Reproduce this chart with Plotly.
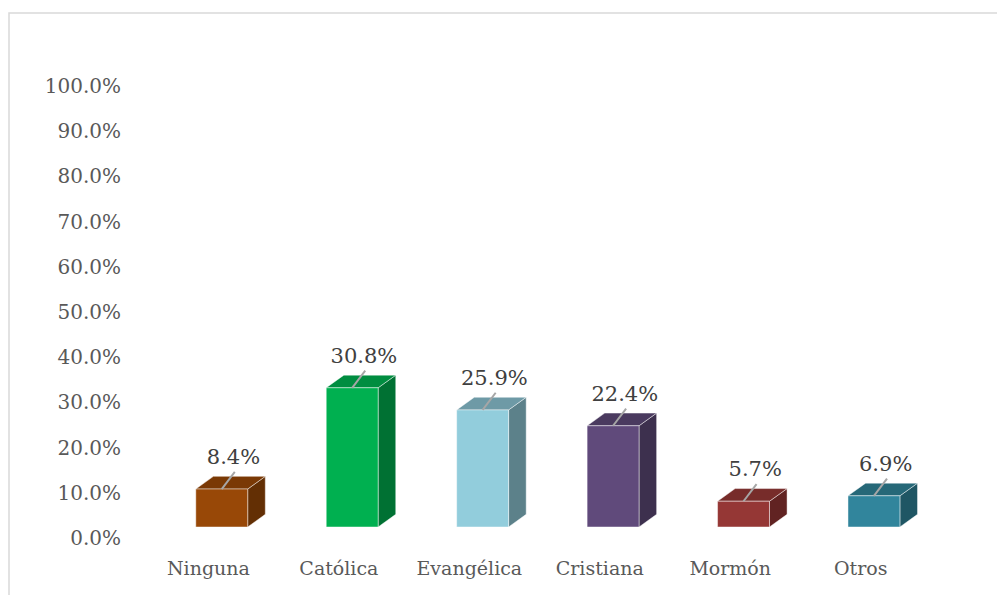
import plotly.graph_objects as go

categories = ["Ninguna", "Católica", "Evangélica", "Cristiana", "Mormón", "Otros"]
values = [8.4, 30.8, 25.9, 22.4, 5.7, 6.9]
front_colors = ["#984807", "#00B050", "#92CDDC", "#604A7B", "#953735", "#31859C"]
top_colors = ["#7A3905", "#008D40", "#6E9AA6", "#4A3A5F", "#772C2A", "#266878"]
side_colors = ["#632F04", "#007133", "#5C818A", "#3D304E", "#612322", "#1F5664"]
tick_vals = [0, 10, 20, 30, 40, 50, 60, 70, 80, 90, 100]
tick_text = [f"{t:.1f}%" for t in tick_vals]

FONT = "DejaVu Serif"
off = 0.102   # bar shift relative to category label (perspective)
w = 0.199     # half width of front face
dx = 0.135    # depth in x (category units)
dy = 2.8      # depth in y (percentage units)

fig = go.Figure()

# anchor trace so the visible percentage axis is drawn
fig.add_trace(go.Scatter(x=[0], y=[0], mode="markers", marker=dict(opacity=0),
                         hoverinfo="skip", showlegend=False))

for i, (v, fc, tc, sc) in enumerate(zip(values, front_colors, top_colors, side_colors)):
    c = i + off
    edge = dict(color="rgba(255,255,255,0.45)", width=1)
    fig.add_trace(go.Scatter(
        x=[c + w, c + w + dx, c + w + dx, c + w, c + w],
        y=[0, dy, v + dy, v, 0],
        fill="toself", fillcolor=sc, line=edge, mode="lines",
        yaxis="y2", hoverinfo="skip", showlegend=False))
    fig.add_trace(go.Scatter(
        x=[c - w, c + w, c + w + dx, c - w + dx, c - w],
        y=[v, v, v + dy, v + dy, v],
        fill="toself", fillcolor=tc, line=edge, mode="lines",
        yaxis="y2", hoverinfo="skip", showlegend=False))
    fig.add_trace(go.Scatter(
        x=[c - w, c + w, c + w, c - w, c - w],
        y=[0, 0, v, v, 0],
        fill="toself", fillcolor=fc, line=edge, mode="lines",
        yaxis="y2", hoverinfo="skip", showlegend=False))
    fig.add_trace(go.Scatter(
        x=[c, c + 0.1], y=[v, v + 3.8], mode="lines",
        line=dict(color="#A6A6A6", width=2),
        yaxis="y2", hoverinfo="skip", showlegend=False))
    fig.add_trace(go.Scatter(
        x=[c + 0.09], y=[v + 4.4], mode="text",
        text=[f"{v:.1f}%"], textposition="top center",
        textfont=dict(family=FONT, size=21, color="#404040"),
        yaxis="y2", hoverinfo="skip", showlegend=False))

# page pixel layout (the page body adds an 8 px offset)
BODY = 8
px_l, px_r, px_t, px_b = 126, 965, 60, 550
W, H = 1005 - BODY, 595 - BODY

def paper_x(px):
    return (px - px_l) / (px_r - px_l)

def paper_y(py):
    return (px_b - py) / (px_b - px_t)

fig.add_shape(type="rect", xref="paper", yref="paper",
              x0=paper_x(9), x1=paper_x(1012), y0=paper_y(602), y1=paper_y(13),
              line=dict(color="#D9D9D9", width=1.5), fillcolor="rgba(0,0,0,0)",
              layer="below")

fig.update_layout(
    width=W, height=H,
    margin=dict(l=px_l - BODY, r=W - (px_r - BODY), t=px_t - BODY,
                b=H - (px_b - BODY), pad=0),
    paper_bgcolor="white", plot_bgcolor="white",
    xaxis=dict(range=[-0.632, 5.8], tickmode="array",
               tickvals=list(range(len(categories))), ticktext=categories,
               showgrid=False, zeroline=False, showline=False,
               ticks="", ticklabelstandoff=5,
               tickfont=dict(family=FONT, size=19, color="#595959"),
               fixedrange=True),
    yaxis=dict(range=[-2.65, 105.75], tickmode="array",
               tickvals=tick_vals, ticktext=tick_text,
               showgrid=False, zeroline=False, showline=False,
               ticks="", ticklabelstandoff=4,
               tickfont=dict(family=FONT, size=20, color="#595959"),
               fixedrange=True),
    yaxis2=dict(range=[-5.09, 103.32], overlaying="y", visible=False,
                fixedrange=True),
    showlegend=False,
)

fig.write_html("out.html")
